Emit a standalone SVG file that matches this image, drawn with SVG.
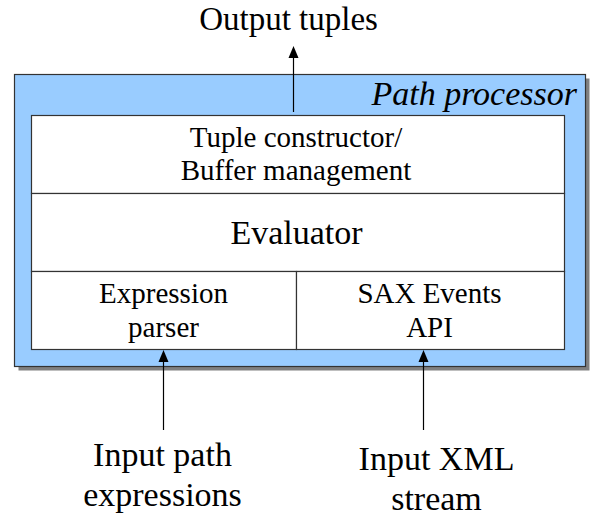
<svg xmlns="http://www.w3.org/2000/svg" width="590" height="516" viewBox="0 0 590 516">
<rect width="590" height="516" fill="#fff"/>
<g id="path-processor">
<rect x="18.5" y="78.5" width="571" height="292" fill="#808080"/>
<rect x="14.5" y="74.5" width="571" height="292" fill="#99ccff" stroke="#333" stroke-width="1.2"/>
<text x="577" y="105" font-family="Liberation Serif" font-size="34" font-style="italic" text-anchor="end">Path processor</text>
</g>
<g id="tuple-constructor">
<rect x="31.5" y="115.5" width="533" height="78" fill="#fff" stroke="#333" stroke-width="1.2"/>
<text x="296" y="147" font-family="Liberation Serif" font-size="29" text-anchor="middle">Tuple constructor/</text>
<text x="296" y="180" font-family="Liberation Serif" font-size="29" text-anchor="middle">Buffer management</text>
</g>
<g id="evaluator">
<rect x="31.5" y="193.5" width="533" height="78" fill="#fff" stroke="#333" stroke-width="1.2"/>
<text x="296.5" y="244" font-family="Liberation Serif" font-size="34" text-anchor="middle">Evaluator</text>
</g>
<g id="expression-parser">
<rect x="31.5" y="271.5" width="265" height="78" fill="#fff" stroke="#333" stroke-width="1.2"/>
<text x="163.5" y="303" font-family="Liberation Serif" font-size="29" text-anchor="middle">Expression</text>
<text x="163.5" y="337" font-family="Liberation Serif" font-size="29" text-anchor="middle">parser</text>
</g>
<g id="sax-events">
<rect x="296.5" y="271.5" width="268" height="78" fill="#fff" stroke="#333" stroke-width="1.2"/>
<text x="429.5" y="303" font-family="Liberation Serif" font-size="29" text-anchor="middle">SAX Events</text>
<text x="429.5" y="337" font-family="Liberation Serif" font-size="29" text-anchor="middle">API</text>
</g>
<g id="labels">
<text x="288.5" y="30" font-family="Liberation Serif" font-size="33" text-anchor="middle">Output tuples</text>
<text x="162.5" y="466" font-family="Liberation Serif" font-size="34" text-anchor="middle">Input path</text>
<text x="162.5" y="506" font-family="Liberation Serif" font-size="34" text-anchor="middle">expressions</text>
<text x="436.5" y="470" font-family="Liberation Serif" font-size="34" text-anchor="middle">Input XML</text>
<text x="436.5" y="510" font-family="Liberation Serif" font-size="34" text-anchor="middle">stream</text>
</g>
<g id="connectors">
<line x1="293.5" y1="112" x2="293.5" y2="56" stroke="#000" stroke-width="1.2"/>
<polygon points="293.5,46 298.5,58 288.5,58" fill="#000"/>
<line x1="163.5" y1="430" x2="163.5" y2="360" stroke="#000" stroke-width="1.2"/>
<polygon points="163.5,350 168.5,362 158.5,362" fill="#000"/>
<line x1="423.5" y1="430" x2="423.5" y2="360" stroke="#000" stroke-width="1.2"/>
<polygon points="423.5,350 428.5,362 418.5,362" fill="#000"/>
</g>
</svg>
